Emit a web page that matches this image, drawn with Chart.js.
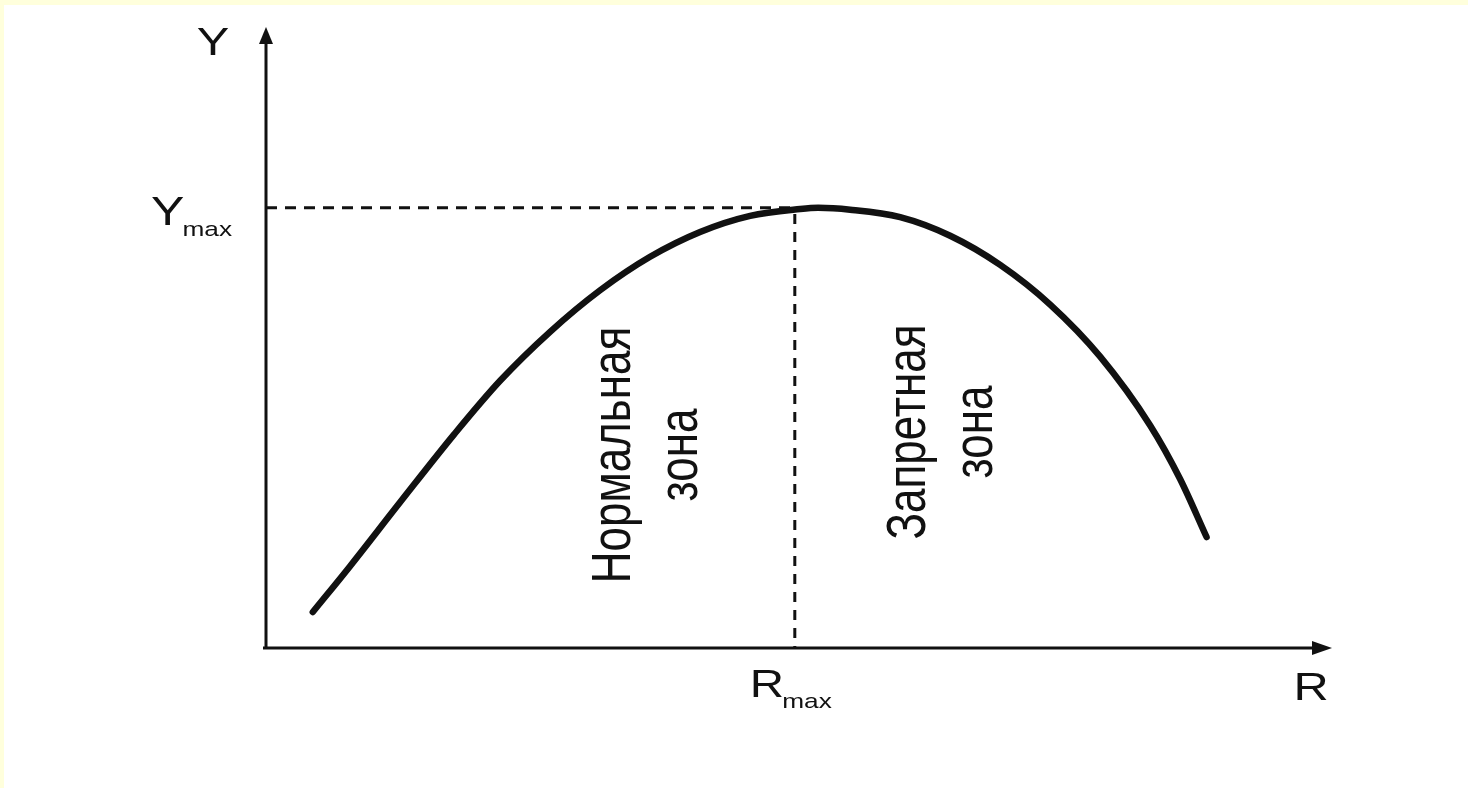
<!DOCTYPE html>
<html>
<head>
<meta charset="utf-8">
<script src="https://cdn.jsdelivr.net/npm/chart.js@4.4.1/dist/chart.umd.min.js"></script>
<style>
    html, body { margin: 0; padding: 0; background: #ffffdc; overflow: hidden; }
    #sheet { position: absolute; left: 4px; top: 5px; width: 1464px; height: 783px; background: #fff; }
    #chart { position: absolute; left: 0; top: 0; }
</style>
</head>
<body>
<div id="sheet"></div>
<canvas id="chart" width="1468" height="788"></canvas>
<script>
// Curve Y(R) (both axes in units 0..100)
const rValues = [4.4, 7.9, 12.6, 17.7, 22.0, 26.7, 31.4, 36.1, 40.8, 45.5, 50.2, 51.9, 54.9, 59.6, 64.3, 69.0, 73.7, 78.4, 83.1, 85.9, 88.4];
const yValues = [5.8, 13.2, 23.5, 34.5, 43.1, 51.0, 57.7, 63.1, 67.1, 69.7, 70.8, 71.0, 70.7, 69.5, 66.5, 61.8, 55.4, 47.0, 35.9, 27.3, 17.9];

// Peak of the curve
const rMax = 49.7;
const yMax = 71.0;

// Texts
const axisNames = ['R', 'Y'];
const subscript = 'max';
const zoneNormal = ['Нормальная', 'зона'];
const zoneForbidden = ['Запретная', 'зона'];

const INK = '#111';
const FONT = '"Liberation Sans", Arial, sans-serif';
const STRETCH = 1.25; // the scan is stretched sideways

function drawStretched(ctx, text, x, y, size, align) {
    ctx.save();
    ctx.translate(x, y);
    ctx.scale(STRETCH, 1);
    ctx.font = size + 'px ' + FONT;
    ctx.textAlign = align || 'left';
    ctx.textBaseline = 'alphabetic';
    ctx.fillText(text, 0, 0);
    ctx.restore();
}

function drawWithSub(ctx, main, sub, cx, baseline, size, subSize, anchor) {
    ctx.save();
    ctx.font = size + 'px ' + FONT;
    const wMain = ctx.measureText(main).width * STRETCH;
    ctx.font = subSize + 'px ' + FONT;
    const wSub = ctx.measureText(sub).width * STRETCH;
    ctx.restore();
    const total = wMain + wSub - 2;
    let x0 = cx - total / 2;
    if (anchor === 'right') x0 = cx - total;
    drawStretched(ctx, main, x0, baseline, size);
    drawStretched(ctx, sub, x0 + wMain - 2, baseline + 11, subSize);
}

// two lines rotated to read bottom-to-top
function drawZone(ctx, lines, baseX, cy, size) {
    ctx.save();
    ctx.translate(baseX, cy);
    ctx.scale(STRETCH, 1);
    ctx.rotate(-Math.PI / 2);
    ctx.font = size + 'px ' + FONT;
    ctx.textAlign = 'center';
    ctx.textBaseline = 'alphabetic';
    lines.forEach((t, i) => ctx.fillText(t, 0, i * 54));
    ctx.restore();
}

const axesPlugin = {
    id: 'axesAndLabels',
    beforeDatasetsDraw(chart) {
        const ctx = chart.ctx;
        const a = chart.chartArea;
        ctx.save();
        ctx.strokeStyle = INK;
        ctx.fillStyle = INK;
        ctx.lineWidth = 3;
        // Y axis
        ctx.beginPath();
        ctx.moveTo(a.left, a.bottom + 1);
        ctx.lineTo(a.left, a.top + 10);
        ctx.stroke();
        ctx.beginPath();
        ctx.moveTo(a.left, a.top - 1);
        ctx.lineTo(a.left - 7, a.top + 16);
        ctx.lineTo(a.left + 7, a.top + 16);
        ctx.closePath();
        ctx.fill();
        // R axis
        ctx.beginPath();
        ctx.moveTo(a.left - 3, a.bottom);
        ctx.lineTo(a.right - 10, a.bottom);
        ctx.stroke();
        ctx.beginPath();
        ctx.moveTo(a.right + 2, a.bottom);
        ctx.lineTo(a.right - 18, a.bottom - 7);
        ctx.lineTo(a.right - 18, a.bottom + 7);
        ctx.closePath();
        ctx.fill();
        ctx.restore();
    },
    afterDraw(chart) {
        const ctx = chart.ctx;
        const a = chart.chartArea;
        const xs = chart.scales.x;
        const ys = chart.scales.y;
        ctx.save();
        ctx.fillStyle = INK;
        // axis names
        drawStretched(ctx, axisNames[1], a.left - 53, a.top + 27, 39, 'center');
        drawStretched(ctx, axisNames[0], a.right - 19, a.bottom + 52, 39, 'center');
        // Ymax and Rmax marks
        drawWithSub(ctx, axisNames[1], subscript, a.left - 34, ys.getPixelForValue(yMax) + 17, 40, 21, 'right');
        drawWithSub(ctx, axisNames[0], subscript, xs.getPixelForValue(rMax) - 4, a.bottom + 49, 38, 21, 'center');
        // zones
        const xr = xs.getPixelForValue(rMax);
        drawZone(ctx, zoneNormal, xr - 165, 455, 44);
        drawZone(ctx, zoneForbidden, xr + 130, 432, 44);
        ctx.restore();
    }
};

const curve = rValues.map((r, i) => ({ x: r, y: yValues[i] }));

new Chart(document.getElementById('chart'), {
    type: 'line',
    data: {
        datasets: [
            {
                data: curve,
                borderColor: INK,
                borderWidth: 6.5,
                borderCapStyle: 'round',
                borderJoinStyle: 'round',
                pointRadius: 0,
                cubicInterpolationMode: 'monotone',
                order: 0
            },
            {
                data: [{ x: 0, y: yMax }, { x: rMax, y: yMax }],
                borderColor: INK,
                borderWidth: 3,
                borderDash: [11, 8],
                pointRadius: 0,
                order: 1
            },
            {
                data: [{ x: rMax, y: yMax - 1 }, { x: rMax, y: 0 }],
                borderColor: INK,
                borderWidth: 3,
                borderDash: [10, 8],
                pointRadius: 0,
                order: 1
            }
        ]
    },
    options: {
        responsive: false,
        animation: false,
        events: [],
        layout: { padding: { left: 266, right: 138, top: 28, bottom: 140 } },
        plugins: {
            legend: { display: false },
            tooltip: { enabled: false }
        },
        scales: {
            x: { type: 'linear', min: 0, max: 100, display: false },
            y: { type: 'linear', min: 0, max: 100, display: false }
        }
    },
    plugins: [axesPlugin]
});
</script>
</body>
</html>
